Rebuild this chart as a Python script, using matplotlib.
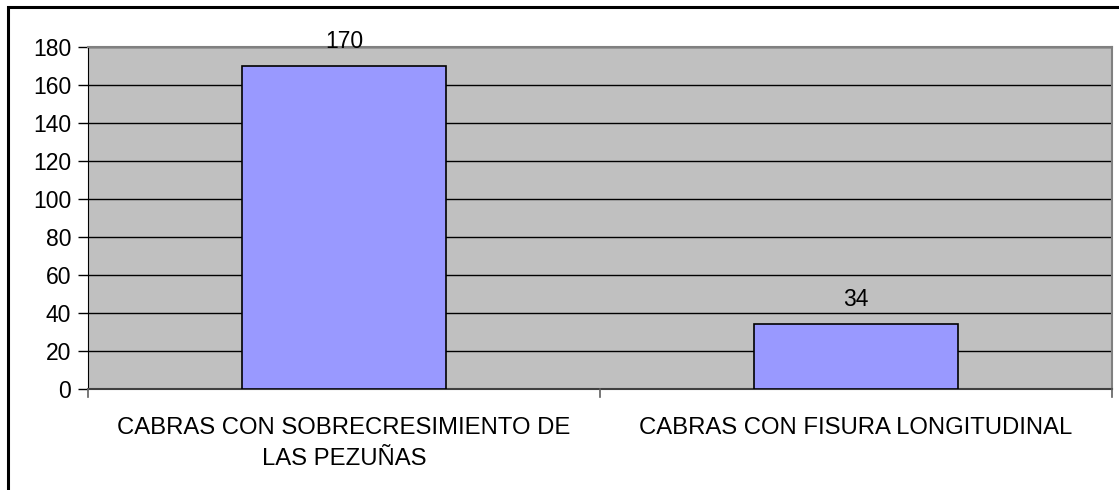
import matplotlib
matplotlib.use("Agg")
import matplotlib.pyplot as plt
from matplotlib.patches import Rectangle

categories = ["CABRAS CON SOBRECRESIMIENTO DE\nLAS PEZUÑAS", "CABRAS CON FISURA LONGITUDINAL"]
values = [170, 34]
yticks = [0, 20, 40, 60, 80, 100, 120, 140, 160, 180]

plt.rcParams['font.family'] = ['Liberation Sans', 'DejaVu Sans']
FS = 16.5
FSL = 17.2
W, H = 1119, 490
fig = plt.figure(figsize=(W/100, H/100), dpi=100)
ax = fig.add_axes([88/W, 1-389/H, (1112-88)/W, (389-47)/H])
ax.set_facecolor('#C0C0C0')

x = list(range(len(categories)))
bars = ax.bar(x, values, width=0.4, color='#9999FF', edgecolor='black', linewidth=1.2, zorder=3)
ax.set_xlim(-0.5, len(categories)-0.5)
ax.set_ylim(0, 180)
ax.set_yticks(yticks)
ax.set_yticklabels([str(t) for t in yticks], fontsize=FS)
ax.yaxis.grid(True, color='black', linewidth=1.0, zorder=1)
ax.set_axisbelow(True)

for b, v in zip(bars, values):
    ax.text(b.get_x()+b.get_width()/2, v+9.5, str(v), ha='center', va='baseline', fontsize=FS)

ax.set_xticks([])
for s in ['top', 'right']:
    ax.spines[s].set_color('#808080')
    ax.spines[s].set_linewidth(1.5)
ax.spines['left'].set_color('black')
ax.spines['bottom'].set_color('#404040')
ax.spines['bottom'].set_linewidth(1.5)
ax.tick_params(axis='y', length=7, width=1, color='black', pad=5)

# category boundary ticks below x-axis
for xb in [-0.5, 0.5, 1.5]:
    ax.plot([xb, xb], [0, -4], color='#606060', lw=1.2, clip_on=False, zorder=4)

for i, c in enumerate(categories):
    ax.text(i, -14.5, c, ha='center', va='top', fontsize=FSL, linespacing=1.55)

# outer border
fig.add_artist(Rectangle((8/W, -0.1), 1.2, (1 - 7/H) + 0.1, transform=fig.transFigure,
                         fill=False, edgecolor='black', linewidth=2.2))

fig.savefig('out.png', dpi=100)
